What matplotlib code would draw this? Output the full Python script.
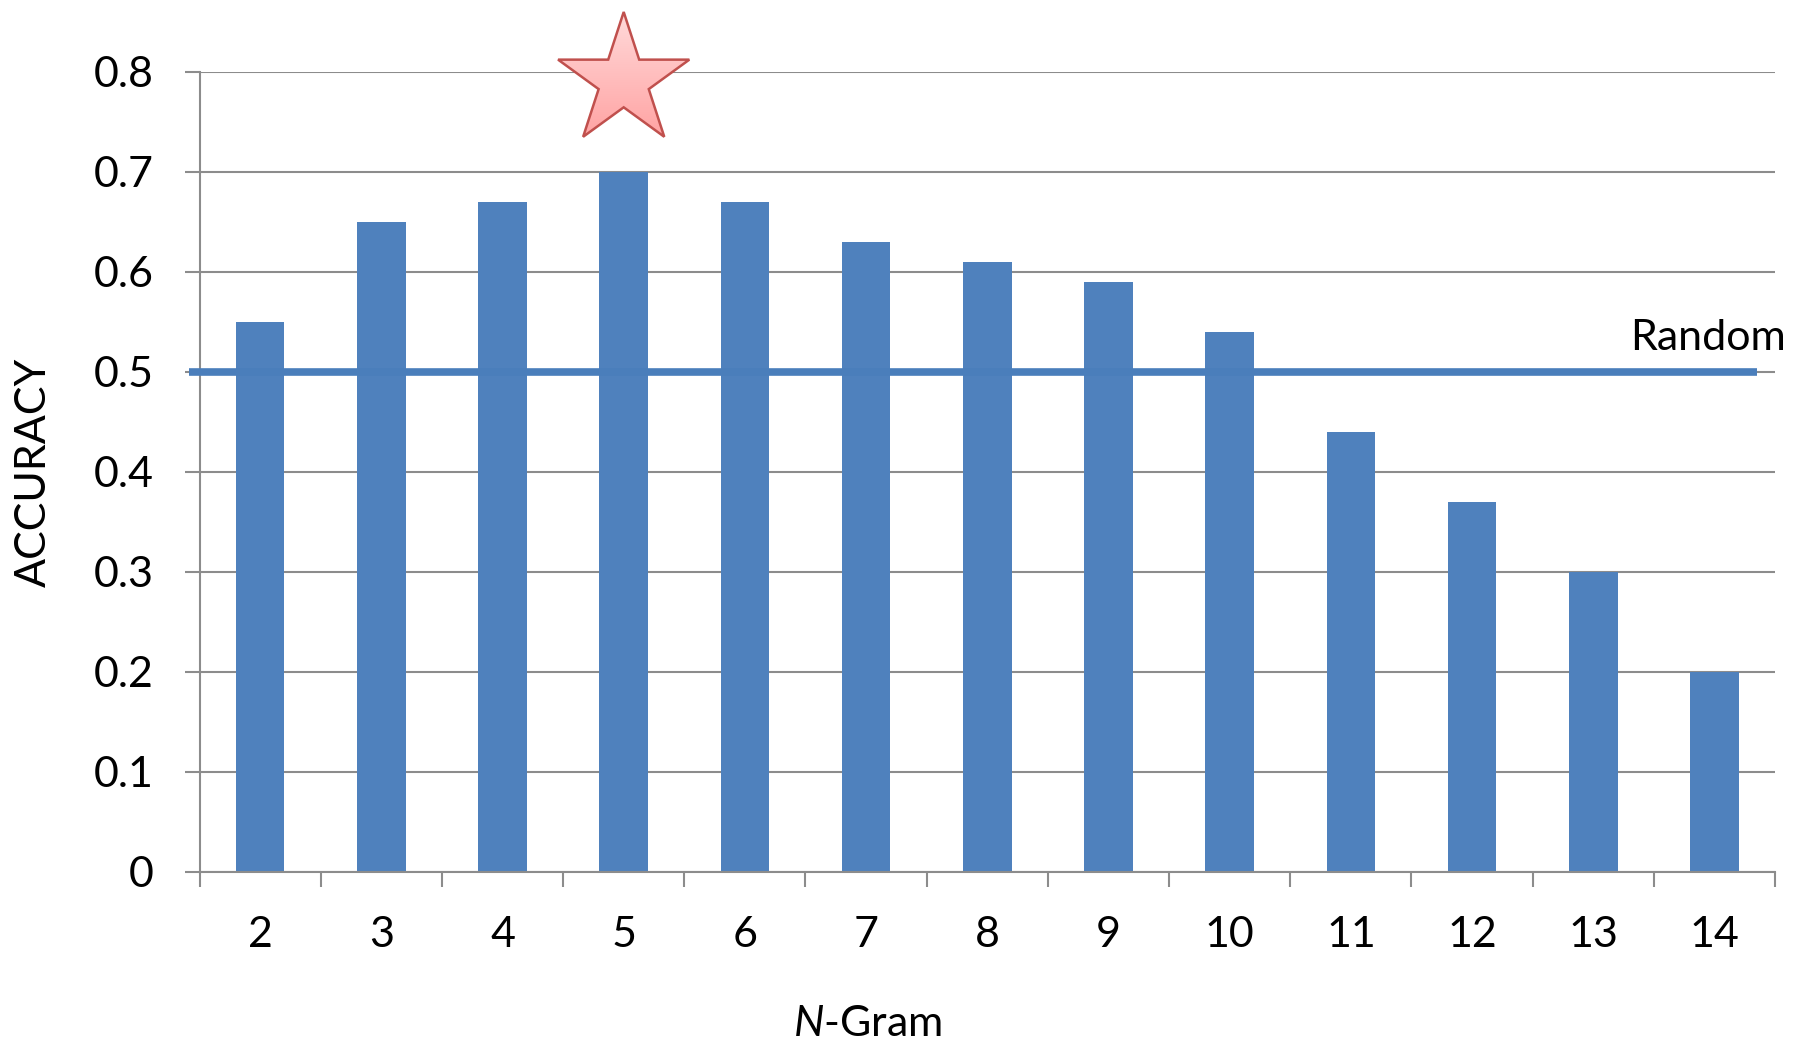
import numpy as np
import matplotlib
matplotlib.use("Agg")
import matplotlib.pyplot as plt
from matplotlib.path import Path as MPath
from matplotlib.patches import PathPatch
from matplotlib.colors import LinearSegmentedColormap

# data
ngrams = ["2", "3", "4", "5", "6", "7", "8", "9", "10", "11", "12", "13", "14"]
accuracy = [0.55, 0.65, 0.67, 0.70, 0.67, 0.63, 0.61, 0.59, 0.54, 0.44, 0.37, 0.30, 0.20]
random_level = 0.5
best_idx = 3  # N = 5
yticks = [0, 0.1, 0.2, 0.3, 0.4, 0.5, 0.6, 0.7, 0.8]

plt.rcParams["font.family"] = ["Lato", "DejaVu Sans"]
plt.rcParams["mathtext.fontset"] = "custom"
plt.rcParams["mathtext.it"] = "Lato:italic"
plt.rcParams["mathtext.rm"] = "Lato"

BAR = "#4f81bd"
GRID = "#8c8c8c"
FS = 31

fig = plt.figure(figsize=(17.99, 10.43), dpi=100)
ax = fig.add_axes([0.1109, 0.164, 0.8758, 0.767])

x = np.arange(len(ngrams))
ax.bar(x, accuracy, width=0.40, color=BAR, zorder=2)

ax.set_xlim(-0.5, len(ngrams) - 0.5)
ax.set_ylim(0, 0.8)

# y axis
ax.set_yticks(yticks)
ax.set_yticklabels(["0" if v == 0 else f"{v:.1f}" for v in yticks])
ax.yaxis.grid(True, color=GRID, linewidth=1.5, zorder=0)
ax.set_axisbelow(True)
ax.tick_params(axis="y", length=11, width=1.5, color=GRID, labelsize=FS, pad=22)

# x axis: labels at centres, tick marks at category boundaries
ax.set_xticks(x)
ax.set_xticklabels(ngrams)
ax.set_xticks(np.arange(-0.5, len(ngrams)), minor=True)
ax.tick_params(axis="x", which="major", length=0, labelsize=FS, pad=32)
ax.tick_params(axis="x", which="minor", length=11, width=1.5, color=GRID, direction="out")

for s in ["top", "right"]:
    ax.spines[s].set_visible(False)
for s in ["left", "bottom"]:
    ax.spines[s].set_color(GRID)
    ax.spines[s].set_linewidth(1.5)
ax.spines["left"].set_zorder(3)

# random baseline
ax.plot([-0.59, 12.35], [random_level, random_level], color="#4a7ebb",
        linewidth=5.5, solid_capstyle="butt", clip_on=False, zorder=4)
ax.text(11.30, random_level + 0.022, "Random", fontsize=FS, ha="left", va="baseline")

# star over the best bar, with a light gradient fill
cx, cy = x[best_idx], 0.791
px_per_x = ax.bbox.width / len(ngrams)
px_per_y = ax.bbox.height / 0.8
r_px = 69
angles = np.pi / 2 + np.arange(10) * np.pi / 5
radii = np.where(np.arange(10) % 2 == 0, r_px, r_px * 0.381966)
vx = cx + radii * np.cos(angles) / px_per_x
vy = cy + radii * np.sin(angles) / px_per_y
verts = np.vstack([np.column_stack([vx, vy]), [[vx[0], vy[0]]]])
codes = [MPath.MOVETO] + [MPath.LINETO] * 9 + [MPath.CLOSEPOLY]
star = PathPatch(MPath(verts, codes), facecolor="none", edgecolor="#c0504d",
                 linewidth=1.8, clip_on=False, zorder=6)
ax.add_patch(star)
cmap = LinearSegmentedColormap.from_list("pink", ["#ffa3a3", "#ffdada"])
grad = np.linspace(0, 1, 256).reshape(-1, 1)
im = ax.imshow(grad, cmap=cmap, origin="lower", aspect="auto",
               extent=[vx.min(), vx.max(), vy.min(), vy.max()], zorder=5)
im.set_clip_box(fig.bbox)
im.set_clip_path(star)
ax.set_xlim(-0.5, len(ngrams) - 0.5)
ax.set_ylim(0, 0.8)

ax.set_ylabel("ACCURACY", fontsize=FS)
ax.yaxis.set_label_coords(-0.093, 0.5)
ax.text(0.424, -0.19, r"$\it{N}$-Gram", transform=ax.transAxes, fontsize=FS,
        ha="center", va="center")

fig.savefig("out.png", dpi=100)
